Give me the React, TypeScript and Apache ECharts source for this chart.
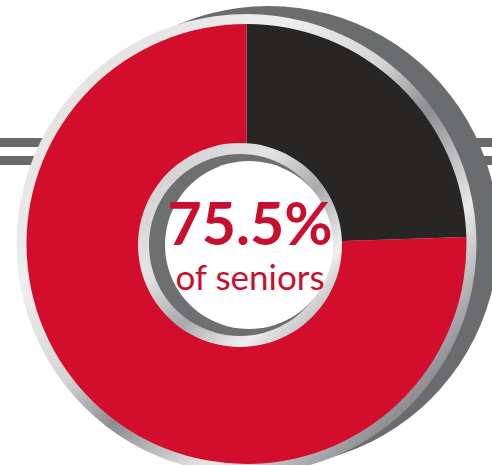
import React, { useEffect, useRef } from "react";
import * as echarts from "echarts";

const categories = ["Not seniors", "Seniors"];
const values = [24.5, 75.5];
const sliceColors = ["#272625", "#d30e2c"];
const centerLabel = "of seniors";

export default function App() {
  const ref = useRef<HTMLDivElement>(null);
  useEffect(() => {
    if (!ref.current) return;
    const chart = echarts.init(ref.current, null, { renderer: "svg" });
    const cx = 246.5;
    const cy = 244;
    const R = 220;
    const silverOuter = {
      type: "linear", x: 0, y: 0, x2: 1, y2: 1,
      colorStops: [
        { offset: 0, color: "#dcdad8" },
        { offset: 0.3, color: "#eeeeee" },
        { offset: 0.45, color: "#d6d5d6" },
        { offset: 0.55, color: "#8d8c91" },
        { offset: 0.7, color: "#e9e9e9" },
        { offset: 0.85, color: "#8e8d92" },
        { offset: 1, color: "#cfcfcf" },
      ],
    };
    const silverInner = {
      type: "linear", x: 0, y: 0, x2: 1, y2: 1,
      colorStops: [
        { offset: 0, color: "#c9c8c8" },
        { offset: 0.35, color: "#e4e4e4" },
        { offset: 0.55, color: "#a9a8ab" },
        { offset: 0.75, color: "#f0f0f0" },
        { offset: 1, color: "#8c8b8f" },
      ],
    };
    chart.setOption({
      animation: false,
      backgroundColor: "#ffffff",
      graphic: [
        { type: "rect", z: 0, silent: true, shape: { x: 0, y: 138, width: 492, height: 9 }, style: { fill: "#6b6867" } },
        { type: "rect", z: 0, silent: true, shape: { x: 0, y: 156, width: 492, height: 9 }, style: { fill: "#6b6867" } },
        { type: "circle", z: 1, silent: true, shape: { cx: cx + 22, cy: cy - 8, r: R + 10 }, style: { fill: "#6b6c6e" } },
        { type: "circle", z: 1, silent: true, shape: { cx, cy, r: R + 10 }, style: { fill: silverOuter } },
        { type: "circle", z: 10, silent: true, shape: { cx: 240, cy: 245, r: 102 }, style: { fill: silverInner } },
        { type: "circle", z: 10, silent: true, shape: { cx: 240, cy: 245, r: 91 }, style: { fill: "#6e6f71" } },
        { type: "circle", z: 10, silent: true, shape: { cx: 249, cy: 245, r: 84 }, style: { fill: "#ffffff" } },
        {
          type: "text", z: 11, silent: true, x: 250, y: 252,
          style: {
            text: `${values[1]}%`, fill: "#c8102e", font: "bold 59px Lato, 'Open Sans', sans-serif",
            align: "center", verticalAlign: "bottom",
          },
        },
        {
          type: "text", z: 11, silent: true, x: 250, y: 293,
          style: {
            text: centerLabel, fill: "#c8102e", font: "35px Lato, 'Open Sans', sans-serif",
            align: "center", verticalAlign: "bottom",
          },
        },
      ],
      series: [
        {
          type: "pie",
          z: 5,
          center: [cx, cy],
          radius: [90, R],
          startAngle: 90,
          clockwise: true,
          silent: true,
          label: { show: false },
          labelLine: { show: false },
          itemStyle: { borderWidth: 0 },
          data: categories.map((name, i) => ({ name, value: values[i], itemStyle: { color: sliceColors[i] } })),
        },
      ],
    });
    return () => chart.dispose();
  }, []);
  return <div ref={ref} style={{ position: "fixed", left: 0, top: 0, width: 492, height: 465 }} />;
}
